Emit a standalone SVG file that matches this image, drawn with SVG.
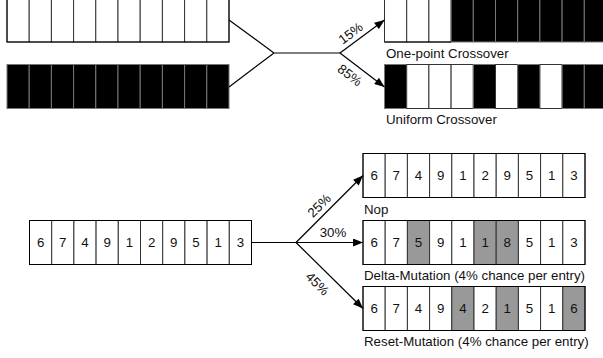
<svg xmlns="http://www.w3.org/2000/svg" width="603" height="358" viewBox="0 0 603 358">
<style>
text{font-family:"Liberation Sans",Arial,sans-serif;font-size:13.3px;fill:#111}
.d{text-anchor:middle}
.w{fill:#fff;stroke:#333;stroke-width:1}
.b{fill:#000;stroke:#777;stroke-width:1}
.g{fill:#999;stroke:#333;stroke-width:1}
.ln{fill:none;stroke:#000;stroke-width:1.2}
</style>
<defs>
<marker id="ah" viewBox="0 0 10 8" refX="10" refY="4" markerWidth="11" markerHeight="8" markerUnits="userSpaceOnUse" orient="auto">
<path d="M0,0 L10,4 L0,8 Z" fill="#000"/>
</marker>
</defs>

<g id="parentA">
<rect class="w" x="7" y="-2" width="22.2" height="44"/><rect class="w" x="29.2" y="-2" width="22.2" height="44"/><rect class="w" x="51.4" y="-2" width="22.2" height="44"/><rect class="w" x="73.6" y="-2" width="22.2" height="44"/><rect class="w" x="95.8" y="-2" width="22.2" height="44"/><rect class="w" x="118" y="-2" width="22.2" height="44"/><rect class="w" x="140.2" y="-2" width="22.2" height="44"/><rect class="w" x="162.4" y="-2" width="22.2" height="44"/><rect class="w" x="184.6" y="-2" width="22.2" height="44"/><rect class="w" x="206.8" y="-2" width="22.2" height="44"/>
<rect x="7" y="-2" width="222" height="44" fill="none" stroke="#000" stroke-width="1"/>
</g>

<g id="parentB">
<rect class="b" x="7" y="64.5" width="22.2" height="44"/><rect class="b" x="29.2" y="64.5" width="22.2" height="44"/><rect class="b" x="51.4" y="64.5" width="22.2" height="44"/><rect class="b" x="73.6" y="64.5" width="22.2" height="44"/><rect class="b" x="95.8" y="64.5" width="22.2" height="44"/><rect class="b" x="118" y="64.5" width="22.2" height="44"/><rect class="b" x="140.2" y="64.5" width="22.2" height="44"/><rect class="b" x="162.4" y="64.5" width="22.2" height="44"/><rect class="b" x="184.6" y="64.5" width="22.2" height="44"/><rect class="b" x="206.8" y="64.5" width="22.2" height="44"/>
</g>

<g id="onepoint">
<rect class="w" x="384.5" y="-2" width="22.2" height="44"/><rect class="w" x="406.7" y="-2" width="22.2" height="44"/><rect class="w" x="428.9" y="-2" width="22.2" height="44"/><rect class="b" x="451.1" y="-2" width="22.2" height="44"/><rect class="b" x="473.3" y="-2" width="22.2" height="44"/><rect class="b" x="495.5" y="-2" width="22.2" height="44"/><rect class="b" x="517.7" y="-2" width="22.2" height="44"/><rect class="b" x="539.9" y="-2" width="22.2" height="44"/><rect class="b" x="562.1" y="-2" width="22.2" height="44"/><rect class="b" x="584.3" y="-2" width="22.2" height="44"/>
<path d="M384.5,42 H451.1" stroke="#000" stroke-width="1"/>
<text x="386" y="57.5">One-point Crossover</text>
</g>

<g id="uniform">
<rect class="b" x="384.5" y="64.5" width="22.2" height="44"/><rect class="w" x="406.7" y="64.5" width="22.2" height="44"/><rect class="w" x="428.9" y="64.5" width="22.2" height="44"/><rect class="w" x="451.1" y="64.5" width="22.2" height="44"/><rect class="b" x="473.3" y="64.5" width="22.2" height="44"/><rect class="w" x="495.5" y="64.5" width="22.2" height="44"/><rect class="b" x="517.7" y="64.5" width="22.2" height="44"/><rect class="w" x="539.9" y="64.5" width="22.2" height="44"/><rect class="b" x="562.1" y="64.5" width="22.2" height="44"/><rect class="b" x="584.3" y="64.5" width="22.2" height="44"/>
<text x="386" y="123.5">Uniform Crossover</text>
</g>

<g id="source">
<rect class="w" x="29.5" y="220.5" width="22.2" height="44"/><rect class="w" x="51.7" y="220.5" width="22.2" height="44"/><rect class="w" x="73.9" y="220.5" width="22.2" height="44"/><rect class="w" x="96.1" y="220.5" width="22.2" height="44"/><rect class="w" x="118.3" y="220.5" width="22.2" height="44"/><rect class="w" x="140.5" y="220.5" width="22.2" height="44"/><rect class="w" x="162.7" y="220.5" width="22.2" height="44"/><rect class="w" x="184.9" y="220.5" width="22.2" height="44"/><rect class="w" x="207.1" y="220.5" width="22.2" height="44"/><rect class="w" x="229.3" y="220.5" width="22.2" height="44"/>
<rect x="29.5" y="220.5" width="222" height="44" fill="none" stroke="#000" stroke-width="1"/>
<text class="d" x="40.6" y="247.3">6</text><text class="d" x="62.8" y="247.3">7</text><text class="d" x="85" y="247.3">4</text><text class="d" x="107.2" y="247.3">9</text><text class="d" x="129.4" y="247.3">1</text><text class="d" x="151.6" y="247.3">2</text><text class="d" x="173.8" y="247.3">9</text><text class="d" x="196" y="247.3">5</text><text class="d" x="218.2" y="247.3">1</text><text class="d" x="240.4" y="247.3">3</text>
</g>

<g id="nop">
<rect class="w" x="363" y="153.5" width="22.2" height="44"/><rect class="w" x="385.2" y="153.5" width="22.2" height="44"/><rect class="w" x="407.4" y="153.5" width="22.2" height="44"/><rect class="w" x="429.6" y="153.5" width="22.2" height="44"/><rect class="w" x="451.8" y="153.5" width="22.2" height="44"/><rect class="w" x="474" y="153.5" width="22.2" height="44"/><rect class="w" x="496.2" y="153.5" width="22.2" height="44"/><rect class="w" x="518.4" y="153.5" width="22.2" height="44"/><rect class="w" x="540.6" y="153.5" width="22.2" height="44"/><rect class="w" x="562.8" y="153.5" width="22.2" height="44"/>
<rect x="363" y="153.5" width="222" height="44" fill="none" stroke="#000" stroke-width="1"/>
<text class="d" x="374.1" y="180.3">6</text><text class="d" x="396.3" y="180.3">7</text><text class="d" x="418.5" y="180.3">4</text><text class="d" x="440.7" y="180.3">9</text><text class="d" x="462.9" y="180.3">1</text><text class="d" x="485.1" y="180.3">2</text><text class="d" x="507.3" y="180.3">9</text><text class="d" x="529.5" y="180.3">5</text><text class="d" x="551.7" y="180.3">1</text><text class="d" x="573.9" y="180.3">3</text>
<text x="364" y="214">Nop</text>
</g>

<g id="delta">
<rect class="w" x="363" y="220.5" width="22.2" height="44"/><rect class="w" x="385.2" y="220.5" width="22.2" height="44"/><rect class="g" x="407.4" y="220.5" width="22.2" height="44"/><rect class="w" x="429.6" y="220.5" width="22.2" height="44"/><rect class="w" x="451.8" y="220.5" width="22.2" height="44"/><rect class="g" x="474" y="220.5" width="22.2" height="44"/><rect class="g" x="496.2" y="220.5" width="22.2" height="44"/><rect class="w" x="518.4" y="220.5" width="22.2" height="44"/><rect class="w" x="540.6" y="220.5" width="22.2" height="44"/><rect class="w" x="562.8" y="220.5" width="22.2" height="44"/>
<rect x="363" y="220.5" width="222" height="44" fill="none" stroke="#000" stroke-width="1"/>
<text class="d" x="374.1" y="247.3">6</text><text class="d" x="396.3" y="247.3">7</text><text class="d" x="418.5" y="247.3">5</text><text class="d" x="440.7" y="247.3">9</text><text class="d" x="462.9" y="247.3">1</text><text class="d" x="485.1" y="247.3">1</text><text class="d" x="507.3" y="247.3">8</text><text class="d" x="529.5" y="247.3">5</text><text class="d" x="551.7" y="247.3">1</text><text class="d" x="573.9" y="247.3">3</text>
<text x="364" y="279.5">Delta-Mutation (4% chance per entry)</text>
</g>

<g id="reset">
<rect class="w" x="363" y="286.5" width="22.2" height="44"/><rect class="w" x="385.2" y="286.5" width="22.2" height="44"/><rect class="w" x="407.4" y="286.5" width="22.2" height="44"/><rect class="w" x="429.6" y="286.5" width="22.2" height="44"/><rect class="g" x="451.8" y="286.5" width="22.2" height="44"/><rect class="w" x="474" y="286.5" width="22.2" height="44"/><rect class="g" x="496.2" y="286.5" width="22.2" height="44"/><rect class="w" x="518.4" y="286.5" width="22.2" height="44"/><rect class="w" x="540.6" y="286.5" width="22.2" height="44"/><rect class="g" x="562.8" y="286.5" width="22.2" height="44"/>
<rect x="363" y="286.5" width="222" height="44" fill="none" stroke="#000" stroke-width="1"/>
<text class="d" x="374.1" y="313.3">6</text><text class="d" x="396.3" y="313.3">7</text><text class="d" x="418.5" y="313.3">4</text><text class="d" x="440.7" y="313.3">9</text><text class="d" x="462.9" y="313.3">4</text><text class="d" x="485.1" y="313.3">2</text><text class="d" x="507.3" y="313.3">1</text><text class="d" x="529.5" y="313.3">5</text><text class="d" x="551.7" y="313.3">1</text><text class="d" x="573.9" y="313.3">6</text>
<text x="364" y="345.5">Reset-Mutation (4% chance per entry)</text>
</g>

<g id="connectors">
<path class="ln" d="M229,20 L274,53 L229,87 M274,53 H340"/>
<path class="ln" d="M340,53 L384.5,20" marker-end="url(#ah)"/>
<path class="ln" d="M340,53 L384.5,87" marker-end="url(#ah)"/>
<path class="ln" d="M251.5,242.5 H296"/>
<path class="ln" d="M296,242.5 L363,175.5" marker-end="url(#ah)"/>
<path class="ln" d="M296,242.5 H363" marker-end="url(#ah)"/>
<path class="ln" d="M296,242.5 L363,308.5" marker-end="url(#ah)"/>
<text class="d" transform="translate(350.5,33) rotate(-37)" y="4.8">15%</text>
<text class="d" transform="translate(350,75) rotate(37)" y="4.8">85%</text>
<text class="d" transform="translate(319,205.5) rotate(-45)" y="4.8">25%</text>
<text class="d" x="333" y="237">30%</text>
<text class="d" transform="translate(317.5,283.5) rotate(45)" y="4.8">45%</text>
</g>
</svg>
